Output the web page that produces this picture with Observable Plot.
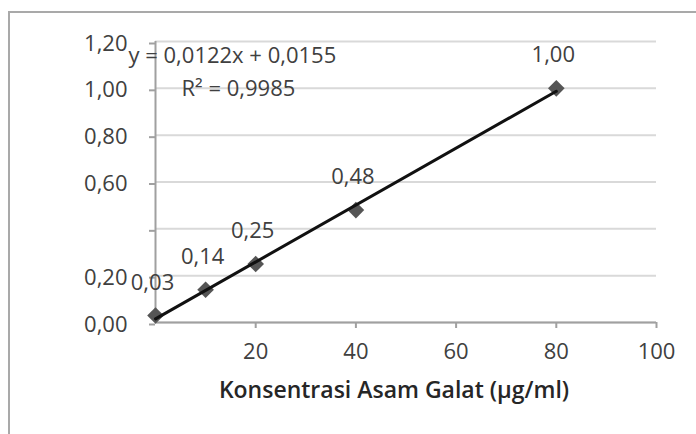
<!DOCTYPE html>
<html>
<head>
<meta charset="utf-8">
<script src="https://cdn.jsdelivr.net/npm/d3@7"></script>
<script src="https://cdn.jsdelivr.net/npm/@observablehq/plot@0.6"></script>
<style>
  html, body { margin: 0; padding: 0; background: #fff; overflow: hidden; }
  #wrap { position: relative; width: 696px; height: 434px; overflow: hidden; }
  #border { position: absolute; left: 8px; top: 11px; width: 900px; height: 600px; border: 2px solid #a9a9a9; box-sizing: border-box; }
  #chart { position: absolute; left: 0; top: 0; }
</style>
</head>
<body>
<div id="wrap"><div id="border"></div><div id="chart"></div></div>
<script>
const concentrations = [0, 10, 20, 40, 80];
const absorbances = [0.03, 0.14, 0.25, 0.48, 1.00];
const pointLabels = ["0,03", "0,14", "0,25", "0,48", "1,00"];
const yTicks = [0, 0.2, 0.4, 0.6, 0.8, 1.0, 1.2];
const yTickLabels = ["0,00", "0,20", "", "0,60", "0,80", "1,00", "1,20"];
const xTicks = [20, 40, 60, 80, 100];
const xTickLabels = ["20", "40", "60", "80", "100"];
const xTitle = "Konsentrasi Asam Galat (µg/ml)";
const equation = "y = 0,0122x + 0,0155";
const rSquared = "R² = 0,9985";

const data = concentrations.map((x, i) => ({x, y: absorbances[i], label: pointLabels[i]}));
const font = "'Open Sans', sans-serif";
const textColor = "#404040";

const chart = Plot.plot({
  width: 696,
  height: 434,
  marginLeft: 155,
  marginRight: 40,
  marginTop: 41,
  marginBottom: 112,
  style: {fontFamily: font, background: "transparent", overflow: "visible"},
  x: {domain: [0, 100]},
  y: {domain: [0, 1.2]},
  marks: [
    Plot.gridY(yTicks, {stroke: "#d9d9d9", strokeOpacity: 1, strokeWidth: 2}),
    Plot.axisY(yTicks, {
      tickSize: 6, tickPadding: 22, stroke: "#a0a0a0", strokeWidth: 2,
      tickFormat: (d) => yTickLabels[yTicks.indexOf(d)],
      fontSize: 22, fill: textColor, dy: 2, label: null
    }),
    Plot.axisX(xTicks, {
      tickSize: 6, tickPadding: 15, stroke: "#a0a0a0", strokeWidth: 2,
      tickFormat: (d) => xTickLabels[xTicks.indexOf(d)],
      fontSize: 22, fill: textColor, label: null
    }),
    Plot.ruleX([0], {stroke: "#a0a0a0", strokeWidth: 2}),
    Plot.ruleY([0], {stroke: "#a0a0a0", strokeWidth: 2}),
    Plot.dot(data, {x: "x", y: "y", symbol: "diamond2", r: 7.5, fill: "#555", stroke: "none"}),
    Plot.linearRegressionY(data, {x: "x", y: "y", stroke: "#111", strokeWidth: 3, ci: 0}),
    Plot.text(data, {x: "x", y: "y", text: "label", dx: -3, dy: -33, fontSize: 22, fill: textColor, lineAnchor: "middle"}),
    Plot.text([equation], {frameAnchor: "top-left", textAnchor: "start", dx: -27, dy: 14, fontSize: 22, fill: textColor, lineAnchor: "middle", letterSpacing: 0.4}),
    Plot.text([rSquared], {frameAnchor: "top-left", textAnchor: "start", dx: 26, dy: 47, fontSize: 22, fill: textColor, lineAnchor: "middle", letterSpacing: 0.4}),
    Plot.text([xTitle], {frameAnchor: "bottom", dx: -12, dy: 68, fontSize: 23, fontWeight: 600, fill: "#262626", lineAnchor: "middle", letterSpacing: 0.3})
  ]
});
document.getElementById("chart").appendChild(chart);
</script>
</body>
</html>
